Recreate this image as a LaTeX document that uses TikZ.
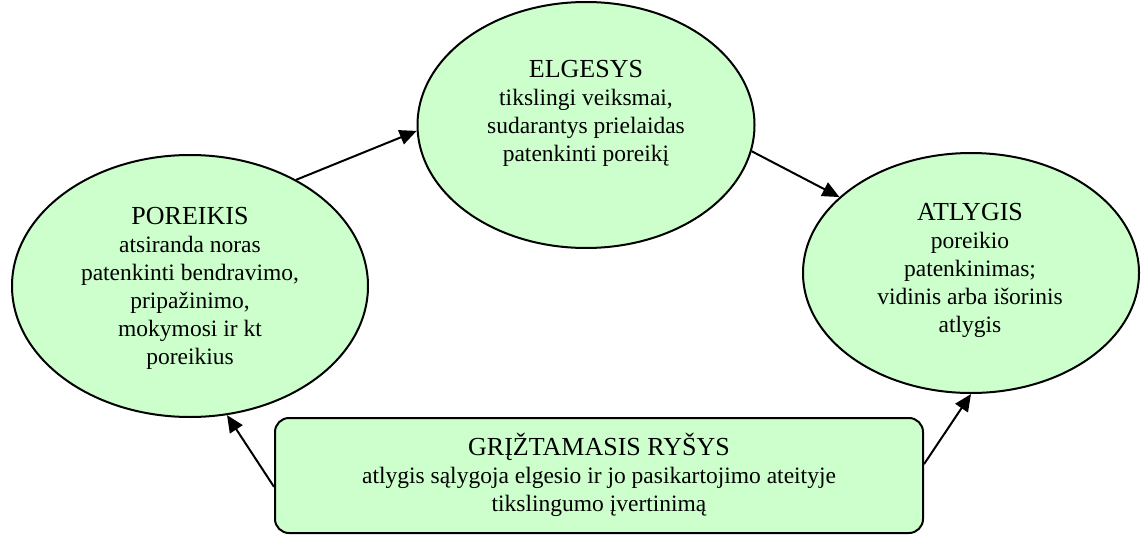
\documentclass[tikz,border=0pt]{standalone}
\usepackage{fontspec}
\setmainfont{Liberation Serif}
\usetikzlibrary{shapes.geometric,arrows.meta}
\definecolor{palegreen}{HTML}{CCFFCC}
\newcommand\hdsize{\fontsize{26}{28}\selectfont}
\begin{document}
\begin{tikzpicture}[x=1pt,y=1pt,
  bubble/.style={ellipse, draw, fill=palegreen, line width=2pt, inner sep=0pt},
  feedbox/.style={rectangle, rounded corners=14pt, draw, fill=palegreen,
    line width=2pt, inner sep=0pt, minimum width=648pt, minimum height=115pt},
  % anchored at the baseline of the last line
  txt/.style={anchor=base, align=center, inner sep=0pt,
    font=\fontsize{23.5}{28}\selectfont},
  link/.style={-{Triangle[length=17pt,width=15pt]}, line width=2pt}
]
\useasboundingbox (0,0) rectangle (1141,-535);

% the four stages of the cycle
\node[bubble, minimum width=356pt, minimum height=262pt] (need) at (190,-286) {};
\node[bubble, minimum width=337pt, minimum height=246pt] (act) at (586,-125) {};
\node[bubble, minimum width=336pt, minimum height=240pt] (rew) at (971,-273) {};
\node[feedbox] (fb) at (599,-475.5) {};

% their texts
\node[txt] (needtxt) at (190,-364) {{\hdsize POREIKIS}\\atsiranda noras\\patenkinti bendravimo,\\pripažinimo,\\mokymosi ir kt\\poreikius};
\node[txt] (acttxt) at (586,-161) {{\hdsize ELGESYS}\\tikslingi veiksmai,\\sudarantys prielaidas\\patenkinti poreikį};
\node[txt] (rewtxt) at (970,-332) {{\hdsize ATLYGIS}\\poreikio\\patenkinimas;\\vidinis arba išorinis\\atlygis};
\node[txt] (fbtxt) at (599,-511) {{\hdsize GRĮŽTAMASIS RYŠYS}\\atlygis sąlygoja elgesio ir jo pasikartojimo ateityje\\tikslingumo įvertinimą};

% connectors
\draw[link] (need.45) -- (act.182);
\draw[link] (act.-9.5) -- (rew.150);
\draw[link] (fb.182.2) -- (need.-74);
\draw[link] (fb.2.2) -- (rew.-90);
\end{tikzpicture}
\end{document}
